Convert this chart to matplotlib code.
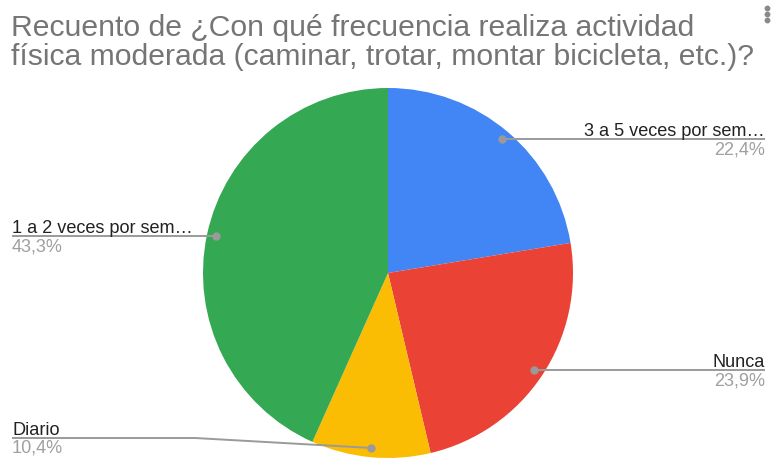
import numpy as np
import matplotlib
matplotlib.use("Agg")
import matplotlib.pyplot as plt

categories = ["3 a 5 veces por sem…", "Nunca", "Diario", "1 a 2 veces por sem…"]
values = [22.4, 23.9, 10.4, 43.3]
colors = ["#4285F4", "#EA4335", "#FBBC04", "#34A853"]
title_lines = ["Recuento de ¿Con qué frecuencia realiza actividad",
               "física moderada (caminar, trotar, montar bicicleta, etc.)?"]

plt.rcParams['font.family'] = ['Liberation Sans', 'DejaVu Sans']

W, H = 773, 460
fig = plt.figure(figsize=(W / 100, H / 100), dpi=100)

cx, cy, R = 388, 274, 185
ax = fig.add_axes([(cx - R) / W, (H - cy - R) / H, 2 * R / W, 2 * R / H])
wedges, _ = ax.pie(values, colors=colors, startangle=90, counterclock=False,
                   radius=1.0, wedgeprops=dict(linewidth=0))
ax.set_xlim(-1, 1)
ax.set_ylim(-1, 1)
ax.set_aspect('equal')
ax.axis('off')

ov = fig.add_axes([0, 0, 1, 1], zorder=5)
ov.set_xlim(0, W)
ov.set_ylim(H, 0)
ov.axis('off')
ov.patch.set_alpha(0)

for yb, line in zip([36, 65], title_lines):
    ov.text(11, yb, line, ha='left', va='baseline', fontsize=21.7, color='#757575')

# menu dots
ov.plot([767, 767, 767], [9, 15, 21], 'o', color='#8a8a8a', ms=3.2)

line_c = '#9a9a9a'
total = sum(values)
cum = 0
for i, (cat, v) in enumerate(zip(categories, values)):
    mid = 90 - (cum + v / 2) / total * 360
    cum += v
    a = np.deg2rad(mid)
    dx = cx + 0.95 * R * np.cos(a)
    dy = cy - 0.95 * R * np.sin(a)
    pct = f"{v:.1f}%".replace('.', ',')
    if np.cos(a) > 0:
        xs = [dx, 765]
        ys = [dy, dy]
        tx, ha, ty = 765, 'right', dy
    else:
        if dy > 430:
            ly = 439
            xs = [dx, 195, 12]
            ys = [dy, ly, ly]
            ty = ly
        else:
            xs = [dx, 12]
            ys = [dy, dy]
            ty = dy
        tx, ha = 12, 'left'
    ov.plot(xs, ys, color=line_c, lw=1.4, solid_capstyle='butt')
    ov.plot([dx], [dy], 'o', color=line_c, ms=5)
    ov.text(tx, ty - 4, cat, ha=ha, va='baseline', fontsize=13.1, color='#222222')
    ov.text(tx, ty + 14, pct, ha=ha, va='baseline', fontsize=13.1, color='#a0a0a0')

fig.savefig("out.png", dpi=100)
